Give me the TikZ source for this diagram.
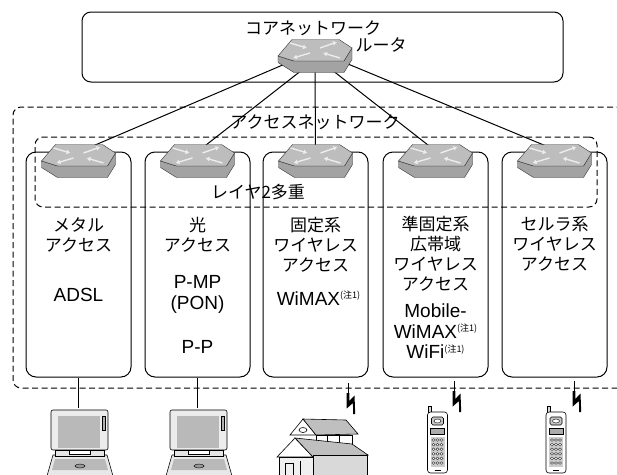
\documentclass[tikz,border=0pt]{standalone}
\usepackage{fontspec}
\setmainfont{Noto Sans CJK JP}
\newfontfamily\latinfont{Liberation Sans}
\usetikzlibrary{arrows.meta,calc,backgrounds}

\newcommand\noteone{\raisebox{6.5pt}{\normalfont\fontsize{9}{9}\selectfont(注1)}}

% router puck, drawn around the node centre (y grows downwards)
\newcommand\routericon{%
  \begin{scope}[shift={(path picture bounding box.center)},line width=0.4pt]
    \filldraw[draw=gray!40!black,fill=gray!72] (-37,0) -- (-21,5) -- (29,5) -- (37,-8) -- (37,3.5)
      -- (29,16.5) -- (-21,16.5) -- (-37,6.5) -- cycle;
    \filldraw[draw=gray!40!black,fill=gray!52] (-37,0) -- (-23,-16.5) -- (24,-16.5) -- (37,-8)
      -- (29,5) -- (-21,5) -- cycle;
    \draw[white!85!gray,line width=1.4pt,-{Latex[length=4pt,width=5pt]}] (-25,-13) -- (-8,-8);
    \draw[white!85!gray,line width=1.4pt,-{Latex[length=4pt,width=5pt]}] (25,2) -- (8,-3);
    \draw[white!85!gray,line width=1.4pt,-{Latex[length=4pt,width=5pt]}] (5,-8) -- (22,-14);
    \draw[white!85!gray,line width=1.4pt,-{Latex[length=4pt,width=5pt]}] (-5,-3) -- (-22,2);
  \end{scope}}

% notebook pc
\newcommand\laptopicon{%
  \begin{scope}[shift={(path picture bounding box.center)},line width=0.6pt]
    \filldraw[fill=gray!18] (-27,13) -- (27,13) -- (33,34) -- (-33,34) -- cycle;
    \fill[gray!55] (-25,17) -- (25,17) -- (28,28) -- (-28,28) -- cycle;
    \filldraw[fill=gray!80,line width=0.4pt] (0,24) ellipse (5 and 2);
    \filldraw[fill=gray!15,rounded corners=2pt] (-29,-32) rectangle (28,8);
    \fill[gray!55] (-22,-26) rectangle (20,6);
    \filldraw[fill=gray!60,line width=0.3pt] (22,-26) rectangle (25,-12);
    \filldraw[fill=gray!20] (-25,8) rectangle (24,14);
    \filldraw[fill=white,line width=0.5pt] (-11,8) rectangle (10,12);
  \end{scope}}

% handset
\newcommand\phoneicon{%
  \begin{scope}[shift={(path picture bounding box.center)},line width=0.6pt]
    \filldraw[fill=gray!30] (-9,-34) rectangle (-6,-27);
    \filldraw[fill=white,rounded corners=3pt] (-10,-28) rectangle (10,33);
    \filldraw[fill=gray!45,rounded corners=1.5pt] (-6,-23) rectangle (6,-15);
    \filldraw[fill=white,line width=0.4pt] (0,-19) ellipse (3.5 and 2);
    \filldraw[fill=gray!65,line width=0.4pt] (-7,-12) rectangle (7,-6);
    \fill[gray!40] (-7,-3) rectangle (7,27);
    \foreach \r in {0,...,5}
      \foreach \c in {-4,0,4}
        \filldraw[fill=white,line width=0.3pt] (\c,\r*4.6) ellipse (1.6 and 1.3);
    \draw (-3,30) -- (3,30);
  \end{scope}}

\tikzset{
  netbox/.style={draw,line width=1pt,rounded corners=9pt,inner sep=0pt},
  dashbox/.style={draw,line width=1pt,rounded corners=8pt,dash pattern=on 6pt off 3.5pt,inner sep=0pt},
  colbox/.style={draw,line width=1pt,rounded corners=10pt,minimum width=105pt,minimum height=225pt,inner sep=0pt},
  jp/.style={font=\fontsize{17}{20}\selectfont,align=center,inner sep=0pt},
  lt/.style={font=\latinfont\fontsize{19}{20.5}\selectfont,align=center,inner sep=0pt},
  router/.style={minimum width=76pt,minimum height=35pt,inner sep=0pt,path picture={\routericon}},
  laptop/.style={minimum width=68pt,minimum height=68pt,inner sep=0pt,path picture={\laptopicon}},
  phone/.style={minimum width=22pt,minimum height=68pt,inner sep=0pt,path picture={\phoneicon}},
  link/.style={line width=1pt},
  bolt/.pic={
    \draw[line width=0.8pt] (0,0) -- (0,11);
    \fill (-1.3,10) -- (1.3,10) -- (1.3,18) -- (6.5,12.5) -- (7.2,31) -- (5.2,31) -- (4.9,20) -- (-1.3,25.5) -- cycle;
  },
}

\begin{document}
\begin{tikzpicture}[x=1pt,y=-1pt]
  \useasboundingbox (0,0) rectangle (617,474);

  % Core network
  \node (corebox) [netbox,minimum width=481pt,minimum height=70pt] at (322.5,47) {};
  \node (coretxt) [jp] at (313,28) {コアネットワーク};
  \node (rtlabel) [jp] at (381,45) {ルータ};

  % Access network and layer-2 multiplexing
  \node (access) [dashbox,minimum width=627pt,minimum height=281pt] at (326.5,247.5) {};
  \node (acctxt) [jp] at (315,122) {アクセスネットワーク};
  \node (layer2) [dashbox,minimum width=562pt,minimum height=70pt] at (316,172) {};
  \node (l2txt) [jp] at (258,192) {レイヤ2多重};

  % Access columns
  \node (c1) [colbox] at (78.5,264.5) {};
  \node (c2) [colbox] at (197.5,264.5) {};
  \node (c3) [colbox] at (315.5,264.5) {};
  \node (c4) [colbox] at (435.5,264.5) {};
  \node (c5) [colbox] at (554.5,264.5) {};

  \node (m1) [jp] at (78.5,235) {メタル\\アクセス};
  \node (s1) [lt] at (78.5,295) {ADSL};
  \node (m2) [jp] at (197.5,235) {光\\アクセス};
  \node (s2) [lt] at (197.5,294.5) {P-MP\\(PON)};
  \node (p2) [lt] at (197.5,347) {P-P};
  \node (m3) [jp] at (315.5,245) {固定系\\ワイヤレス\\アクセス};
  \node (s3) [lt] at (318.5,298) {WiMAX\noteone};
  \node (m4) [jp] at (435.5,254) {準固定系\\広帯域\\ワイヤレス\\アクセス};
  \node (s4) [lt] at (435.5,331.5) {Mobile-\\WiMAX\noteone\\WiFi\noteone};
  \node (m5) [jp] at (554.5,244) {セルラ系\\ワイヤレス\\アクセス};

  % Routers
  \node (core) [router] at (315,56) {};
  \node (r1) [router] at (78.5,161) {};
  \node (r2) [router] at (197.5,161) {};
  \node (r3) [router] at (315.5,161) {};
  \node (r4) [router] at (435.5,161) {};
  \node (r5) [router] at (554.5,161) {};

  \begin{pgfonlayer}{background}
    \fill[white] (0,0) rectangle (617,474);
    \draw[link] ($(core)+(-30,8)$) -- ($(r1)+(12,-14)$);
    \draw[link] ($(core)+(-13,14)$) -- ($(r2)+(6,-14)$);
    \draw[link] ($(core)+(0,14)$) -- ($(r3)+(0,-14)$);
    \draw[link] ($(core)+(17,14)$) -- ($(r4)+(-5,-14)$);
    \draw[link] ($(core)+(33,8)$) -- ($(r5)+(-6,-14)$);
  \end{pgfonlayer}

  % Terminals
  \node (pc1) [laptop] at (80,442) {};
  \node (pc2) [laptop] at (199,442) {};
  \draw[link] (c1.south) -- (c1.south |- pc1.north);
  \draw[link] (c2.south) -- (c2.south |- pc2.north);

  \node (ph1) [phone] at (437.5,440) {};
  \node (ph2) [phone] at (556,440) {};

  % House
  \filldraw[line width=0.6pt,fill=white] (290,435) -- (303,419) -- (316,435) -- cycle;
  \draw[line width=0.6pt] (303,430) ellipse (4 and 2.5);
  \filldraw[line width=0.6pt,fill=gray!50] (303,419) -- (346,420) -- (358,434) -- (316,435) -- cycle;
  \filldraw[line width=0.6pt,fill=white] (316,435) rectangle (352,446);
  \draw[line width=0.6pt] (327,435) -- (327,446) (339,435) -- (339,446);
  \filldraw[line width=0.6pt,fill=white] (277,457) -- (295,438) -- (313,457) -- cycle;
  \filldraw[line width=0.6pt,fill=gray!50] (295,438) -- (352,444) -- (368,455) -- (313,457) -- cycle;
  \filldraw[line width=0.6pt,fill=gray!12] (279,457) rectangle (313,476);
  \draw[line width=0.6pt] (285,463) rectangle (293,476) (300,461) -- (300,476);
  \filldraw[line width=0.6pt,fill=gray!30] (313,455) rectangle (367,476);

  % Radio links
  \pic at (348,383) {bolt};
  \pic at (454,381) {bolt};
  \pic at (574,381) {bolt};
\end{tikzpicture}
\end{document}
